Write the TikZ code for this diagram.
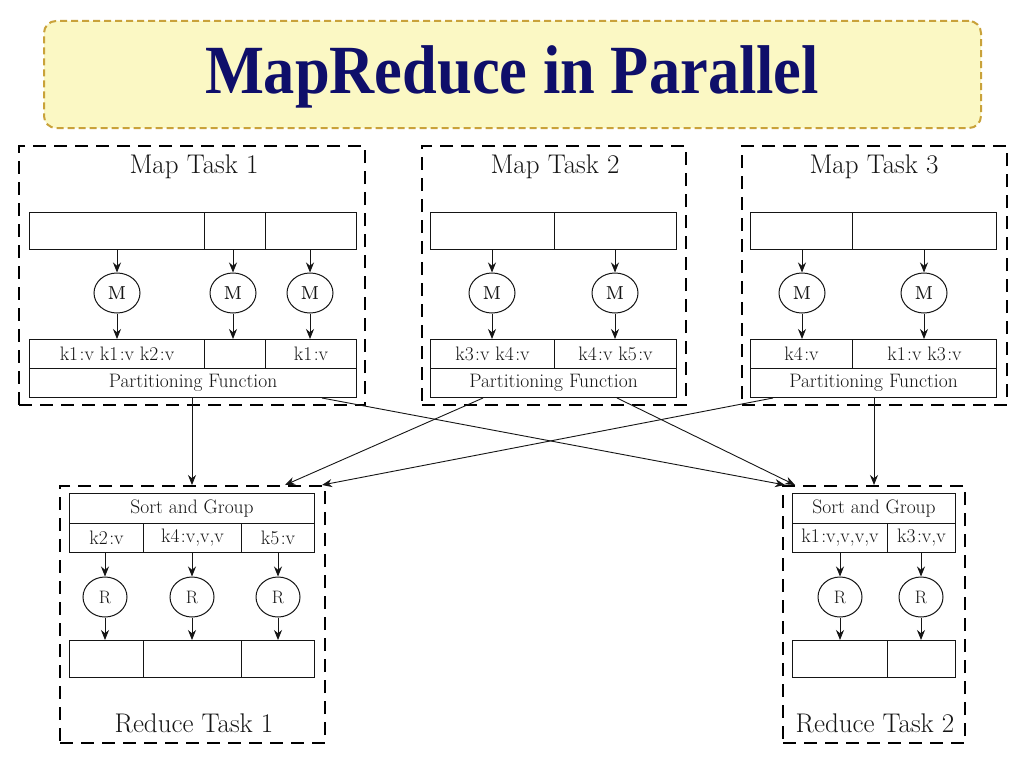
\documentclass[tikz,border=0pt]{standalone}
\usepackage{fontspec}
\newfontfamily\titlefont{Liberation Serif}
\usetikzlibrary{arrows.meta,shapes.geometric,calc}
\definecolor{titleblue}{HTML}{0F0F6A}
\definecolor{titlefill}{HTML}{FBF8C4}
\definecolor{titleedge}{HTML}{C9A23A}
\definecolor{ink}{HTML}{151515}
\newcommand\kv[2]{#1\kern1.5pt:#2}
\begin{document}
\begin{tikzpicture}[x=1pt,y=-1pt,
  task/.style={draw=black, line width=2.4pt, dash pattern=on 13pt off 8pt, anchor=north west, inner sep=0pt},
  cell/.style={draw=ink, line width=1pt, anchor=north west, inner sep=0pt, text=ink, font=\fontsize{19.5}{22}\selectfont},
  fn/.style={draw=ink, line width=1pt, ellipse, inner sep=0pt, minimum width=46pt, minimum height=40pt, text=ink, font=\fontsize{18}{20}\selectfont},
  arr/.style={draw=ink, line width=0.9pt, -{Stealth[length=10pt,width=8pt]}},
  tasklabel/.style={text=ink, font=\fontsize{27}{30}\selectfont, inner sep=0pt, anchor=base}
]
\useasboundingbox (0,0) rectangle (1024,768);
\fill[white] (0,0) rectangle (1024,768);

% title
\node[draw=titleedge, fill=titlefill, line width=2pt, dash pattern=on 7pt off 4pt, rounded corners=12pt, anchor=north west, minimum width=937pt, minimum height=107pt, inner sep=0pt] (titlebox) at (43,20) {};
\node[text=titleblue, font=\titlefont\bfseries\fontsize{69}{70}\selectfont, inner sep=0pt, anchor=base] (title) at (512,93) {\scalebox{0.905}[1]{MapReduce in Parallel}};

% ---------- Map Task 1
\node[task, minimum width=346pt, minimum height=259pt] (mt1) at (18,145) {};
\node[tasklabel] (mt1l) at (194,173) {Map Task 1};
\node[cell, minimum width=175pt, minimum height=37pt] (i11) at (29,212) {};
\node[cell, minimum width=61pt, minimum height=37pt] (i12) at (204,212) {};
\node[cell, minimum width=91pt, minimum height=37pt] (i13) at (265,212) {};
\node[fn] (m11) at (117,293) {{\fontsize{25}{26}\selectfont\textsc{m}}};
\node[fn] (m12) at (233,293) {{\fontsize{25}{26}\selectfont\textsc{m}}};
\node[fn] (m13) at (310,293) {{\fontsize{25}{26}\selectfont\textsc{m}}};
\node[cell, minimum width=175pt, minimum height=29pt] (o11) at (29,339) {\kv{k1}{v} \kv{k1}{v} \kv{k2}{v}};
\node[cell, minimum width=61pt, minimum height=29pt] (o12) at (204,339) {};
\node[cell, minimum width=91pt, minimum height=29pt] (o13) at (265,339) {\kv{k1}{v}};
\node[cell, minimum width=327pt, minimum height=29pt] (p1) at (29,368) {Partitioning Function};

% ---------- Map Task 2
\node[task, minimum width=264pt, minimum height=259pt] (mt2) at (421,145) {};
\node[tasklabel] (mt2l) at (555,173) {Map Task 2};
\node[cell, minimum width=124pt, minimum height=37pt] (i21) at (430,212) {};
\node[cell, minimum width=122pt, minimum height=37pt] (i22) at (554,212) {};
\node[fn] (m21) at (492,293) {{\fontsize{25}{26}\selectfont\textsc{m}}};
\node[fn] (m22) at (615,293) {{\fontsize{25}{26}\selectfont\textsc{m}}};
\node[cell, minimum width=124pt, minimum height=29pt] (o21) at (430,339) {\kv{k3}{v} \kv{k4}{v}};
\node[cell, minimum width=122pt, minimum height=29pt] (o22) at (554,339) {\kv{k4}{v} \kv{k5}{v}};
\node[cell, minimum width=246pt, minimum height=29pt] (p2) at (430,368) {Partitioning Function};

% ---------- Map Task 3
\node[task, minimum width=265pt, minimum height=259pt] (mt3) at (741,145) {};
\node[tasklabel] (mt3l) at (874,173) {Map Task 3};
\node[cell, minimum width=102pt, minimum height=37pt] (i31) at (750,212) {};
\node[cell, minimum width=144pt, minimum height=37pt] (i32) at (852,212) {};
\node[fn] (m31) at (802,293) {{\fontsize{25}{26}\selectfont\textsc{m}}};
\node[fn] (m32) at (924,293) {{\fontsize{25}{26}\selectfont\textsc{m}}};
\node[cell, minimum width=102pt, minimum height=29pt] (o31) at (750,339) {\kv{k4}{v}};
\node[cell, minimum width=144pt, minimum height=29pt] (o32) at (852,339) {\kv{k1}{v} \kv{k3}{v}};
\node[cell, minimum width=246pt, minimum height=29pt] (p3) at (750,368) {Partitioning Function};

% ---------- Reduce Task 1
\node[task, minimum width=265pt, minimum height=257pt] (rt1) at (59,485) {};
\node[tasklabel] (rt1l) at (194,732) {Reduce Task 1};
\node[cell, minimum width=245pt, minimum height=30pt] (sg1) at (69,493) {Sort and Group};
\node[cell, minimum width=74pt, minimum height=29pt] (k11) at (69,523) {\kv{k2}{v}};
\node[cell, minimum width=98pt, minimum height=29pt] (k12) at (143,523) {\kv{k4}{v,v,v}};
\node[cell, minimum width=73pt, minimum height=29pt] (k13) at (241,523) {\kv{k5}{v}};
\node[fn, minimum width=44pt] (r11) at (105,597) {R};
\node[fn, minimum width=44pt] (r12) at (192,597) {R};
\node[fn, minimum width=44pt] (r13) at (278,597) {R};
\node[cell, minimum width=74pt, minimum height=37pt] (u11) at (69,640) {};
\node[cell, minimum width=98pt, minimum height=37pt] (u12) at (143,640) {};
\node[cell, minimum width=73pt, minimum height=37pt] (u13) at (241,640) {};

% ---------- Reduce Task 2
\node[task, minimum width=182pt, minimum height=257pt] (rt2) at (782,485) {};
\node[tasklabel] (rt2l) at (875,732) {Reduce Task 2};
\node[cell, minimum width=163pt, minimum height=30pt] (sg2) at (792,493) {Sort and Group};
\node[cell, minimum width=95pt, minimum height=29pt] (k21) at (792,523) {\kv{k1}{v,v,v,v}};
\node[cell, minimum width=68pt, minimum height=29pt] (k22) at (887,523) {\kv{k3}{v,v}};
\node[fn, minimum width=44pt] (r21) at (840,597) {R};
\node[fn, minimum width=44pt] (r22) at (921,597) {R};
\node[cell, minimum width=95pt, minimum height=37pt] (u21) at (792,640) {};
\node[cell, minimum width=68pt, minimum height=37pt] (u22) at (887,640) {};

% ---------- arrows inside map tasks
\foreach \m/\i/\o in {m11/i11/o11, m12/i12/o12, m13/i13/o13, m21/i21/o21, m22/i22/o22, m31/i31/o31, m32/i32/o32}{
  \draw[arr] (\m |- \i.south) -- (\m.north);
  \draw[arr] (\m.south) -- (\m |- \o.north);
}
% ---------- arrows inside reduce tasks
\foreach \r/\k/\u in {r11/k11/u11, r12/k12/u12, r13/k13/u13, r21/k21/u21, r22/k22/u22}{
  \draw[arr] (\r |- \k.south) -- (\r.north);
  \draw[arr] (\r.south) -- (\r |- \u.north);
}

% ---------- shuffle arrows
\draw[arr] ($(p1.south west)+(163,0)$) -- ($(rt1.north west)+(133,0)$);
\draw[arr] ($(p1.south west)+(293,0)$) -- ($(rt2.north west)+(3,0)$);
\draw[arr] ($(p2.south west)+(53,0)$) -- ($(rt1.north west)+(226,0)$);
\draw[arr] ($(p2.south west)+(187,0)$) -- ($(rt2.north west)+(13,0)$);
\draw[arr] ($(p3.south west)+(23,0)$) -- ($(rt1.north west)+(263,0)$);
\draw[arr] ($(p3.south west)+(124,0)$) -- ($(rt2.north west)+(92,0)$);
\end{tikzpicture}
\end{document}
